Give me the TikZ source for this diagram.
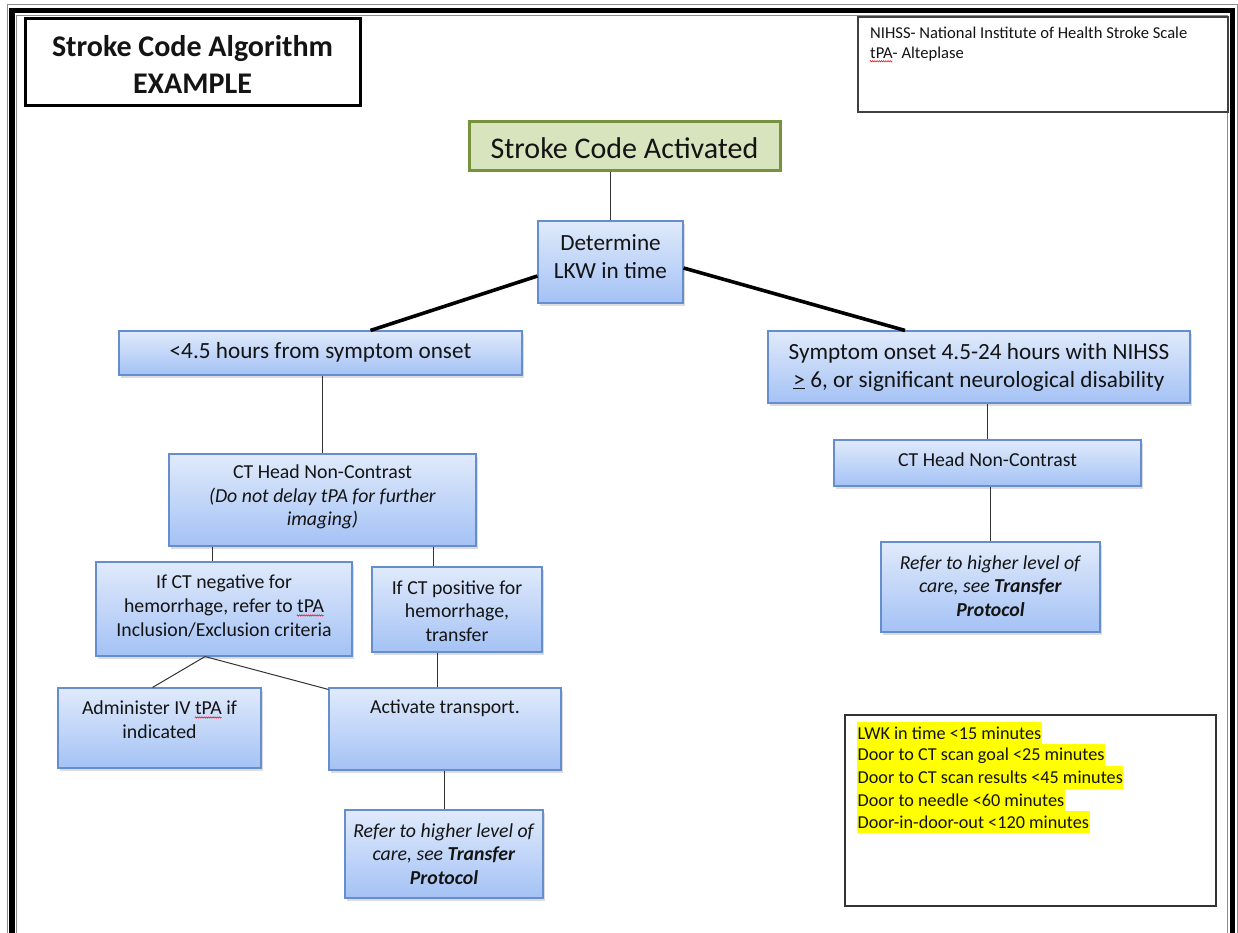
\documentclass[tikz,border=0pt]{standalone}
\usepackage{fontspec}
\setmainfont{Carlito}
\usetikzlibrary{shadows,calc,decorations.pathmorphing}
\definecolor{boxtop}{RGB}{224,234,251}
\definecolor{boxbot}{RGB}{164,194,245}
\definecolor{boxline}{RGB}{102,142,206}
\definecolor{grnfill}{RGB}{215,228,189}
\definecolor{grnline}{RGB}{118,146,60}
\definecolor{txt}{RGB}{20,20,20}
\definecolor{hl}{RGB}{255,255,0}
\newsavebox\sqbox
\newcommand\squig[1]{\sbox\sqbox{#1}\usebox\sqbox\llap{\tikz[baseline=0pt,x=1pt,y=1pt]\draw[red,line width=0.5pt,decorate,decoration={zigzag,amplitude=0.7pt,segment length=2.2pt}] (0pt,-3pt) -- (\the\wd\sqbox,-3pt);}}
\tikzset{
  bluebox/.style={draw=boxline, line width=1.1pt, top color=boxtop, bottom color=boxbot,
    drop shadow={shadow xshift=2pt, shadow yshift=-2.5pt, fill=black!30, opacity=0.45},
    inner sep=0pt},
  bigtxt/.style={text=txt, align=center, inner sep=0pt, font=\fontsize{23.2}{28}\selectfont},
  smtxt/.style={text=txt, align=center, inner sep=0pt, font=\fontsize{19.8}{23.7}\selectfont},
  thinlink/.style={draw=black!80, line width=1pt},
  thicklink/.style={draw=black, line width=3.6pt},
  goal/.style={fill=hl, text=txt, inner xsep=0.5pt, inner ysep=0pt, minimum height=22.4pt, anchor=west,
    font=\fontsize{18.2}{22}\selectfont}
}
\begin{document}
\begin{tikzpicture}[x=1pt,y=-1pt]
\clip (0,0) rectangle (1238,932);
\fill[white] (0,0) rectangle (1238,932);
% page frame
\draw[black!45, line width=1pt] (7.5,4.5) rectangle (1237.5,950);
\draw[black, line width=5.5pt] (12,10.5) rectangle (1232.5,950);
\draw[black!45, line width=0.8pt] (16.8,15.8) rectangle (1227,950);

% title and notes
\node[draw=black, line width=3pt, minimum width=335pt, minimum height=87pt, inner sep=0pt] (title) at (192.5,61.5) {};
\node[text=txt, align=center, inner sep=0pt, font=\bfseries\fontsize{30}{37}\selectfont] (titleT) at (192.5,64.5) {Stroke Code Algorithm\\EXAMPLE};
\node[draw=black!75, line width=1.1pt, minimum width=370pt, minimum height=95pt, inner sep=0pt] (note) at (1043,64.5) {};
\node[text=txt, align=left, anchor=west, inner sep=0pt, font=\fontsize{16.6}{20}\selectfont] (noteT) at (870,44.5) {NIHSS- National Institute of Health Stroke Scale\\\squig{tPA}- Alteplase};

% boxes
\node[draw=grnline, line width=3pt, fill=grnfill, minimum width=311pt, minimum height=49pt, inner sep=0pt] (sca) at (624.5,145.5) {};
\node[text=txt, inner sep=0pt, font=\fontsize{30}{34}\selectfont] (scaT) at (624.5,148) {Stroke Code Activated};

\node[bluebox, minimum width=145pt, minimum height=82pt] (lkw) at (610.5,262) {};
\node[bigtxt] (lkwT) at (610.5,257) {Determine\\LKW in time};

\node[bluebox, minimum width=403pt, minimum height=44pt] (lt45) at (320.5,353) {};
\node[bigtxt] (lt45T) at (320.5,352) {<4.5 hours from symptom onset};

\node[bluebox, minimum width=422pt, minimum height=72pt] (sym) at (979,367) {};
\node[bigtxt] (symT) at (979,367) {Symptom onset 4.5-24 hours with NIHSS\\\underline{>} 6, or significant neurological disability};

\node[bluebox, minimum width=307pt, minimum height=92pt] (ctl) at (322.5,500) {};
\node[smtxt] (ctlT) at (322.5,497) {CT Head Non-Contrast\\\textit{(Do not delay tPA for further}\\\textit{imaging)}};

\node[bluebox, minimum width=256pt, minimum height=94pt] (neg) at (224,609) {};
\node[smtxt] (negT) at (224,606) {If CT negative for\\hemorrhage, refer to \squig{tPA}\\Inclusion/Exclusion criteria};

\node[bluebox, minimum width=170pt, minimum height=85pt] (pos) at (457,609.5) {};
\node[smtxt] (posT) at (457,611) {If CT positive for\\hemorrhage,\\transfer};

\node[bluebox, minimum width=203pt, minimum height=80pt] (adm) at (159.5,728) {};
\node[smtxt] (admT) at (159.5,719.5) {Administer IV \squig{tPA} if\\indicated};

\node[bluebox, minimum width=232pt, minimum height=82pt] (act) at (445,729) {};
\node[smtxt] (actT) at (445,708) {Activate transport.};

\node[bluebox, minimum width=198pt, minimum height=88pt] (ref) at (444,854) {};
\node[smtxt] (refT) at (444,854) {\textit{Refer to higher level of}\\\textit{care, see \textbf{Transfer}}\\\textit{\textbf{Protocol}}};

\node[bluebox, minimum width=307pt, minimum height=46pt] (ctr) at (987.5,463) {};
\node[smtxt] (ctrT) at (987.5,460) {CT Head Non-Contrast};

\node[bluebox, minimum width=219pt, minimum height=90pt] (refr) at (990.5,587) {};
\node[smtxt] (refrT) at (990.5,586) {\textit{Refer to higher level of}\\\textit{care, see \textbf{Transfer}}\\\textit{\textbf{Protocol}}};

% goals box
\node[draw=black!80, line width=1.3pt, minimum width=371pt, minimum height=191pt, inner sep=0pt] (goals) at (1030.5,810.5) {};
\node[goal] (g1) at (857,733) {LWK in time <15 minutes};
\node[goal] (g2) at (857,755.3) {Door to CT scan goal <25 minutes};
\node[goal] (g3) at (857,777.6) {Door to CT scan results <45 minutes};
\node[goal] (g4) at (857,799.9) {Door to needle <60 minutes};
\node[goal] (g5) at (857,822.2) {Door-in-door-out <120 minutes};

% connectors
\draw[thinlink] (sca.south -| lkw.north) -- (lkw.north);
\draw[thicklink] ([yshift=-14pt]lkw.west) -- ([xshift=50pt]lt45.north);
\draw[thicklink] ([yshift=-6pt]lkw.east) -- ([xshift=-74pt]sym.north);
\draw[thinlink] (lt45.south -| ctl.north) -- (ctl.north);
\draw[thinlink] ([xshift=-12pt]neg.north |- ctl.south) -- ([xshift=-12pt]neg.north);
\draw[thinlink] ([xshift=-24pt]pos.north |- ctl.south) -- ([xshift=-24pt]pos.north);
\draw[thinlink] ([xshift=-19pt]neg.south) -- ([xshift=-7pt]adm.north);
\draw[thinlink] ([xshift=-19pt]neg.south) -- ([yshift=-2pt]act.north west);
\draw[thinlink] ([xshift=-20pt]pos.south) -- ([xshift=-20pt]pos.south |- act.north);
\draw[thinlink] (act.south -| ref.north) -- (ref.north);
\draw[thinlink] (sym.south -| ctr.north) -- (ctr.north);
\draw[thinlink] (ctr.south -| refr.north) -- (refr.north);
\end{tikzpicture}
\end{document}
